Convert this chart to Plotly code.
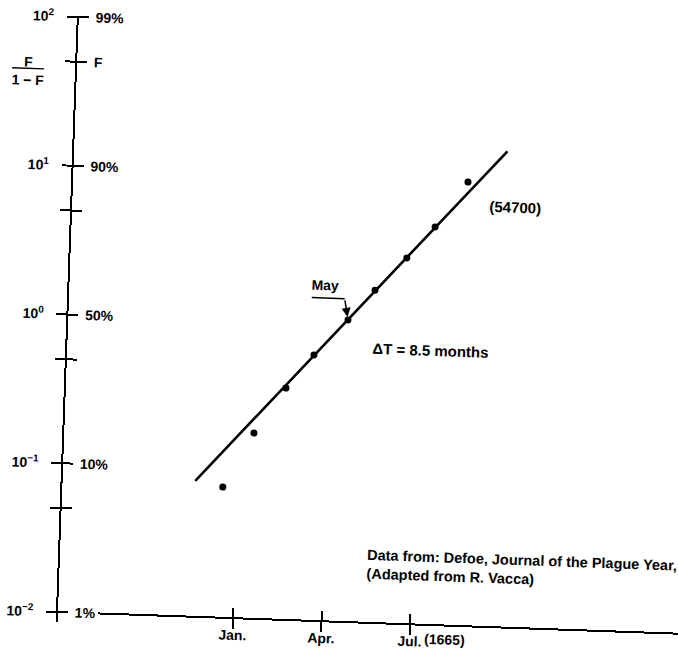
import math
import plotly.graph_objects as go

# Great Plague of London, 1665: cumulative deaths as a share F of the final toll,
# plotted on a Fisher-Pry scale F/(1-F).
month_pos = [0.50, 1.49, 2.52, 3.43, 4.54, 5.42, 6.46, 7.38, 8.44]   # 1 = start of January 1665
ratio = [0.0755, 0.177, 0.361, 0.611, 1.07, 1.72, 2.88, 4.72, 9.61]   # F/(1-F)
may_index = 4

# Logistic fit: time of the 50% point and takeover time (10% -> 90%)
t_half = 4.40
delta_t = 8.5
fit_span = [-0.44, 9.74]
saturation = 54700

month_ticks = [1, 4, 7]
month_labels = ["Jan.", "Apr.", "Jul."]
year_label = "(1665)"

decade_ticks = [0.01, 0.1, 1, 10, 100]
decade_labels = ["10<sup>−2</sup>", "10<sup>−1</sup>", "10<sup>0</sup>",
                 "10<sup>1</sup>", "10<sup>2</sup>"]
percent_labels = ["1%", "10%", "50%", "90%", "99%"]
half_ticks = [0.05, 0.5, 5, 50]
f_tick = 50

source_note = "Data from: Defoe, Journal of the Plague Year,<br>(Adapted from R. Vacca)"

FONT = "Liberation Sans, Arial, Helvetica, sans-serif"
INK = "black"

# fitted straight line on the logit scale
slope = math.log10(81) / delta_t
fit_t = list(fit_span)
fit_r = [10 ** ((t - t_half) * slope) for t in fit_t]

# tick arrays for the two sides of the vertical axis
all_ticks = sorted(decade_ticks + half_ticks)
left_text = [decade_labels[decade_ticks.index(v)] if v in decade_ticks else "" for v in all_ticks]
right_text = []
for v in all_ticks:
    if v in decade_ticks:
        right_text.append(percent_labels[decade_ticks.index(v)])
    elif v == f_tick:
        right_text.append("F")
    else:
        right_text.append("")

fig = go.Figure()
fig.add_trace(go.Scatter(x=fit_t, y=fit_r, mode="lines",
                         line=dict(color=INK, width=2.6), hoverinfo="skip"))
fig.add_trace(go.Scatter(x=month_pos, y=ratio, mode="markers",
                         marker=dict(color=INK, size=7), hoverinfo="skip"))
# companion axes carrying the second half of each cross-shaped tick
fig.add_trace(go.Scatter(x=[], y=[], xaxis="x2", yaxis="y", showlegend=False))
fig.add_trace(go.Scatter(x=[], y=[], xaxis="x", yaxis="y2", showlegend=False))

x_range = [-3.577, 16.071]
y_range = [-2.0672, 2.004]
x_domain = [0.066, 1]
x_pos = 0.0165
tick_font = dict(family=FONT, size=14, color=INK, weight="bold")

common_x = dict(range=x_range, domain=x_domain, anchor="free", position=x_pos,
                tickvals=month_ticks, ticks="outside", ticklen=10, tickwidth=2,
                tickcolor=INK, showgrid=False, zeroline=False)
common_y = dict(type="log", range=y_range, anchor="free", position=0,
                tickvals=all_ticks, ticks="outside", ticklen=10, tickwidth=2,
                tickcolor=INK, showgrid=False, zeroline=False)

# page is 678 px wide; the canvas carries a little spare room on the left and
# right so that nothing is clipped once the drawing is tilted
PAD_L, PAD_R = 20, 4
fig.update_layout(
    width=678 + PAD_L + PAD_R, height=660,
    margin=dict(l=57 + PAD_L, r=PAD_R, t=16, b=38),
    paper_bgcolor="white", plot_bgcolor="white",
    showlegend=False,
    font=dict(family=FONT, size=14, color=INK, weight="bold"),
    xaxis=dict(**common_x, ticktext=month_labels, showline=True, linecolor=INK,
               linewidth=2, side="bottom", tickfont=tick_font, ticklabelstandoff=-6),
    xaxis2=dict(**common_x, overlaying="x", side="top", showline=False,
                showticklabels=False),
    yaxis=dict(**common_y, ticktext=left_text, side="left", showline=True,
               linecolor=INK, linewidth=2, tickfont=tick_font, ticklabelstandoff=10),
    yaxis2=dict(**common_y, ticktext=right_text, overlaying="y", side="right",
                showline=False, tickfont=tick_font, ticklabelstandoff=4),
)

px_t, px_r = month_pos[may_index], ratio[may_index]
annotations = [
    # F/(1-F) title beside the F tick
    dict(xref="paper", yref="y", x=0, y=math.log10(f_tick), xshift=-48, yshift=-11,
         text="<u>\u00a0\u00a0\u00a0F\u00a0\u00a0\u00a0</u><br>1 − F", showarrow=False,
         xanchor="center", yanchor="middle", align="center"),
    # year beside the July label
    dict(xref="x", yref="y", x=month_ticks[-1], y=math.log10(decade_ticks[0]),
         xshift=13, yshift=-14, text=year_label, showarrow=False,
         xanchor="left", yanchor="middle"),
    dict(xref="x", yref="y", x=10.06, y=math.log10(6.71), text=f"({saturation})",
         showarrow=False, xanchor="center", yanchor="middle", font=dict(size=15)),
    dict(xref="x", yref="y", x=7.352, y=math.log10(0.703),
         text=f"ΔT = {delta_t:g} months", showarrow=False,
         xanchor="center", yanchor="middle", font=dict(size=15)),
    # "May" marker with its leader
    dict(xref="x", yref="y", x=px_t, y=math.log10(px_r), xshift=-24, yshift=34,
         text="May", showarrow=False, xanchor="center", yanchor="middle"),
    dict(xref="x", yref="y", x=px_t, y=math.log10(px_r), ax=-4, ay=-21,
         axref="pixel", ayref="pixel", text="", showarrow=True,
         arrowhead=2, arrowsize=1.2, arrowwidth=1.5, arrowcolor=INK, standoff=3),
    dict(xref="paper", yref="paper", x=0.4924, y=0.1125, text=source_note,
         showarrow=False, xanchor="left", yanchor="middle", align="left",
         font=dict(size=14.5)),
]
fig.update_layout(annotations=annotations)

fig.add_shape(type="line", xref="x", yref="y", xsizemode="pixel", ysizemode="pixel",
              xanchor=px_t, yanchor=px_r, x0=-37, x1=-4, y0=21, y1=21,
              line=dict(color=INK, width=1.5))

# the drawing sits about two degrees off square on the page
tilt_js = """
document.documentElement.style.overflow='hidden';
document.body.style.margin='0';
document.body.style.overflow='hidden';
var gd=document.getElementById('{plot_id}');
gd.style.transformOrigin='77px 612px';
gd.style.transform='translateX(-20px) rotate(2deg)';
"""

fig.write_html("out.html", post_script=tilt_js, config=dict(displayModeBar=False))
